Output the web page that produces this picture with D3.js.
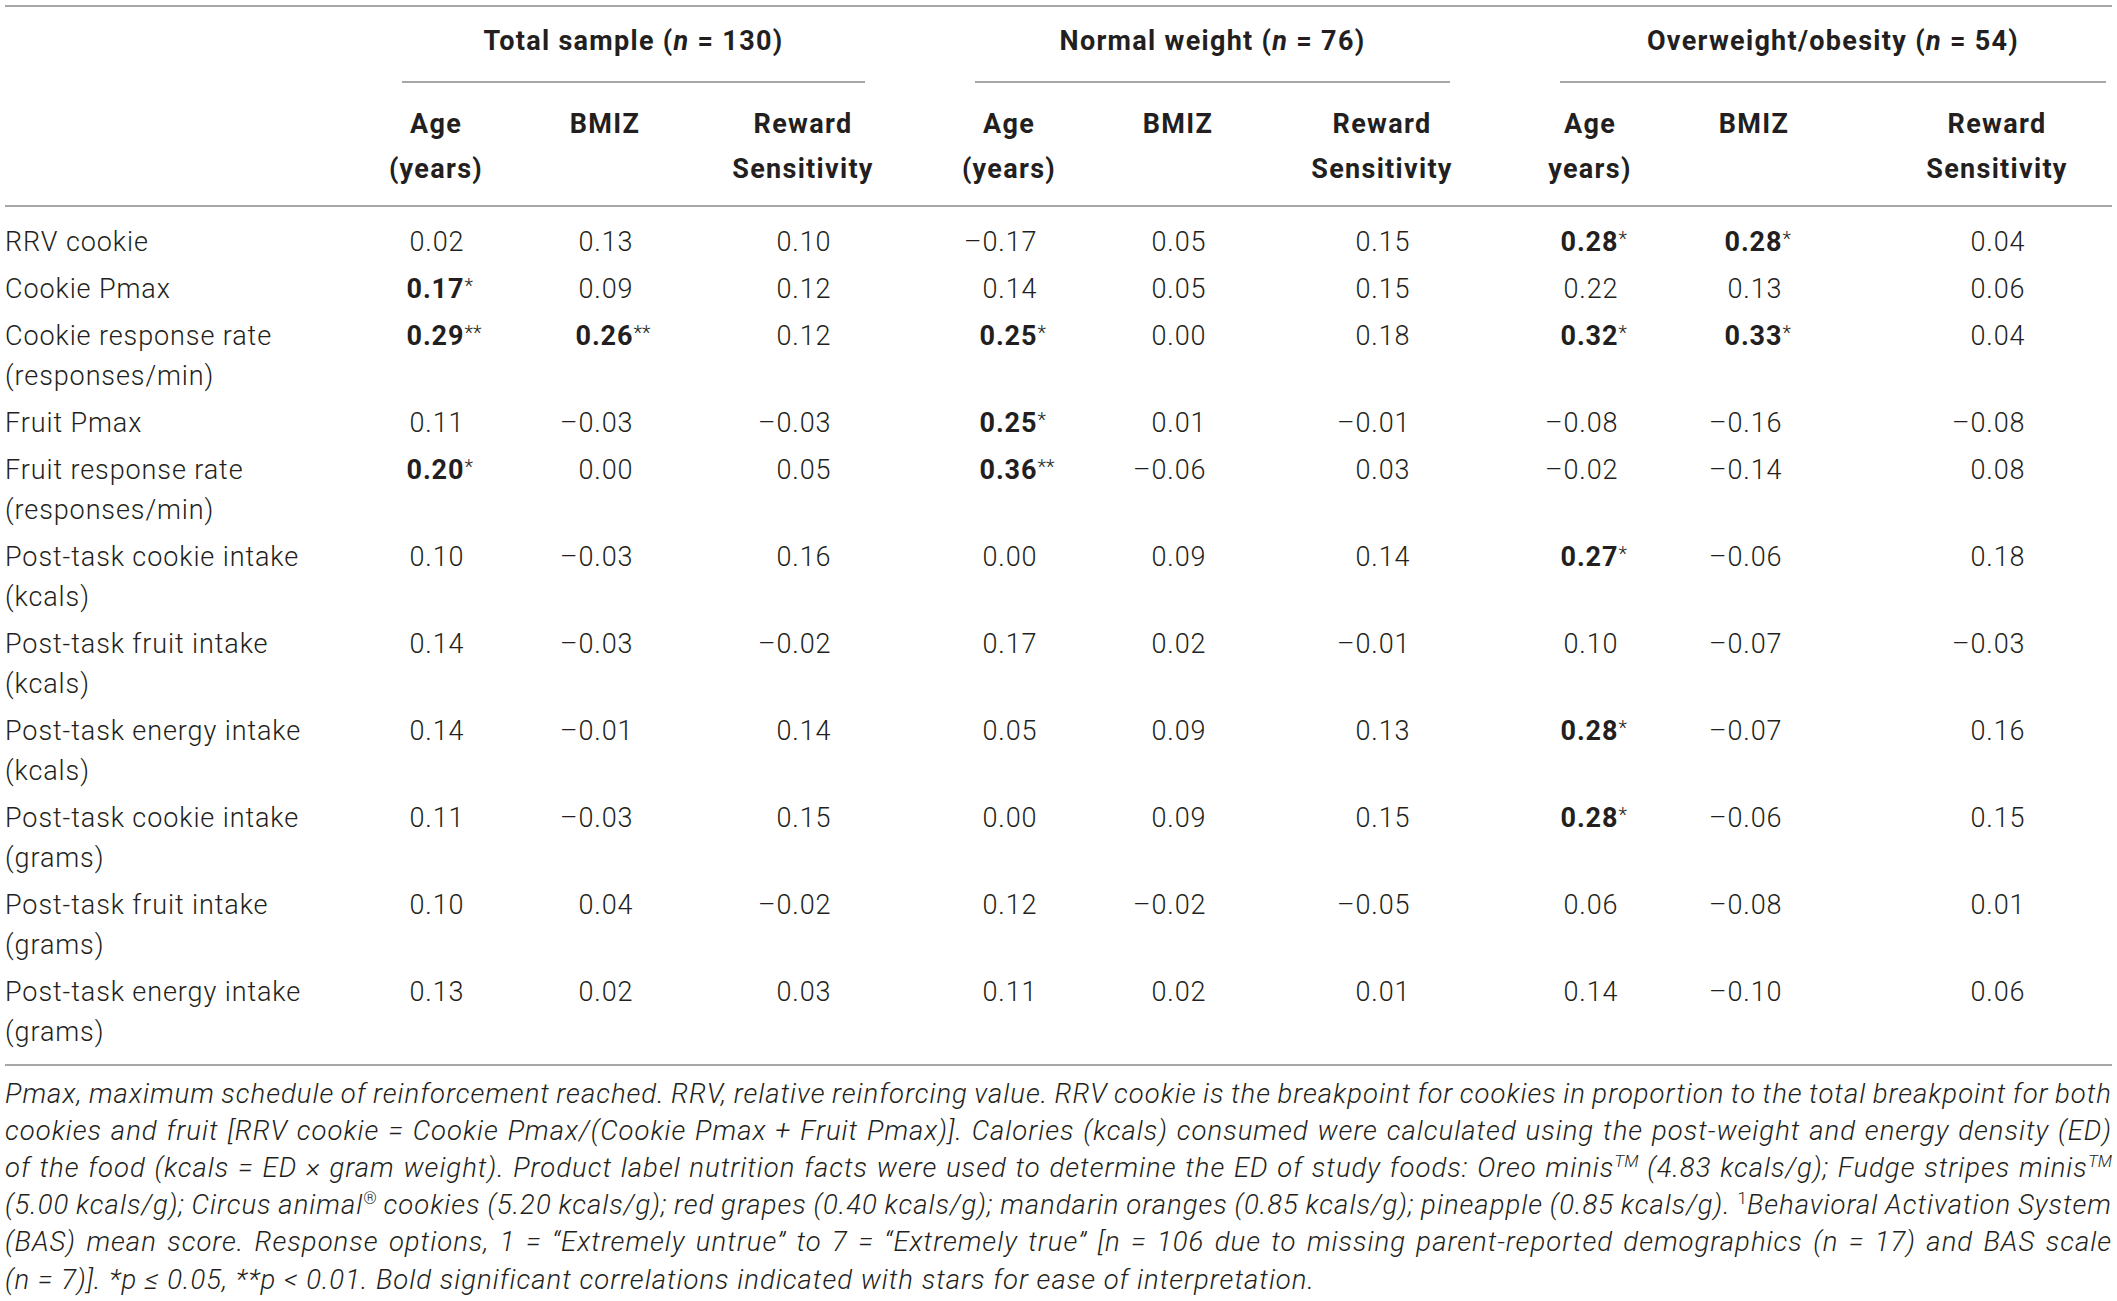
<!DOCTYPE html>
<html>
<head>
<meta charset="utf-8">
<script src="https://cdn.jsdelivr.net/npm/d3@7"></script>
<style>
html, body { margin: 0; padding: 0; background: #fff; }
svg { display: block; }
text { font-family: Roboto, "Liberation Sans", sans-serif; fill: #231f20; }
</style>
</head>
<body>
<div id="table"></div>
<script>
// group headings
var groupNames = ["Total sample", "Normal weight", "Overweight/obesity"];
var groupSizes = [130, 76, 54];

// column headings (the typo "years)" is in the original)
var columnHeads = [
    ["Age", "(years)"], ["BMIZ"], ["Reward", "Sensitivity"],
    ["Age", "(years)"], ["BMIZ"], ["Reward", "Sensitivity"],
    ["Age", "years)"], ["BMIZ"], ["Reward", "Sensitivity"]
];

var rowLabels = [
    ["RRV cookie"],
    ["Cookie Pmax"],
    ["Cookie response rate", "(responses/min)"],
    ["Fruit Pmax"],
    ["Fruit response rate", "(responses/min)"],
    ["Post-task cookie intake", "(kcals)"],
    ["Post-task fruit intake", "(kcals)"],
    ["Post-task energy intake", "(kcals)"],
    ["Post-task cookie intake", "(grams)"],
    ["Post-task fruit intake", "(grams)"],
    ["Post-task energy intake", "(grams)"]
];

// correlations, one array per column
var totalAge     = [0.02, 0.17, 0.29, 0.11, 0.20, 0.10, 0.14, 0.14, 0.11, 0.10, 0.13];
var totalBmiz    = [0.13, 0.09, 0.26, -0.03, 0.00, -0.03, -0.03, -0.01, -0.03, 0.04, 0.02];
var totalReward  = [0.10, 0.12, 0.12, -0.03, 0.05, 0.16, -0.02, 0.14, 0.15, -0.02, 0.03];
var normalAge    = [-0.17, 0.14, 0.25, 0.25, 0.36, 0.00, 0.17, 0.05, 0.00, 0.12, 0.11];
var normalBmiz   = [0.05, 0.05, 0.00, 0.01, -0.06, 0.09, 0.02, 0.09, 0.09, -0.02, 0.02];
var normalReward = [0.15, 0.15, 0.18, -0.01, 0.03, 0.14, -0.01, 0.13, 0.15, -0.05, 0.01];
var overAge      = [0.28, 0.22, 0.32, -0.08, -0.02, 0.27, 0.10, 0.28, 0.28, 0.06, 0.14];
var overBmiz     = [0.28, 0.13, 0.33, -0.16, -0.14, -0.06, -0.07, -0.07, -0.06, -0.08, -0.10];
var overReward   = [0.04, 0.06, 0.04, -0.08, 0.08, 0.18, -0.03, 0.16, 0.15, 0.01, 0.06];

// significant cells: [row, column, number of stars]
var significant = [
    [0, 6, 1], [0, 7, 1],
    [1, 0, 1],
    [2, 0, 2], [2, 1, 2], [2, 3, 1], [2, 6, 1], [2, 7, 1],
    [3, 3, 1],
    [4, 0, 1], [4, 3, 2],
    [5, 6, 1],
    [7, 6, 1],
    [8, 6, 1]
];

// footnote, line by line; "sup" = superscript, "supn" = upright superscript
var footLines = [
    [["Pmax, maximum schedule of reinforcement reached. RRV, relative reinforcing value. RRV cookie is the breakpoint for cookies in proportion to the total breakpoint for both"]],
    [["cookies and fruit [RRV cookie = Cookie Pmax/(Cookie Pmax + Fruit Pmax)]. Calories (kcals) consumed were calculated using the post-weight and energy density (ED)"]],
    [["of the food (kcals = ED \u00d7 gram weight). Product label nutrition facts were used to determine the ED of study foods: Oreo minis"], ["TM", "sup"], [" (4.83 kcals/g); Fudge stripes minis"], ["TM", "sup"]],
    [["(5.00 kcals/g); Circus animal"], ["\u00ae", "supn"], [" cookies (5.20 kcals/g); red grapes (0.40 kcals/g); mandarin oranges (0.85 kcals/g); pineapple (0.85 kcals/g). "], ["1", "supn"], ["Behavioral Activation System"]],
    [["(BAS) mean score. Response options, 1 = \u201cExtremely untrue\u201d to 7 = \u201cExtremely true\u201d [n = 106 due to missing parent-reported demographics (n = 17) and BAS scale"]],
    [["(n = 7)]. *p \u2264 0.05, **p < 0.01. Bold significant correlations indicated with stars for ease of interpretation."]]
];

var columns = [totalAge, totalBmiz, totalReward, normalAge, normalBmiz, normalReward, overAge, overBmiz, overReward];

// ---- layout ----
var W = 2117, H = 1301;
var left = 5, right = 2112;
var fs = 27, fsFoot = 27.5;
var lsBody = 0.9, lsHead = 1.3, lsFoot = 1.0;
var rule = {top: 6, group: 82, head: 206, bottom: 1065};
var groupY = 50, headY = [133, 178];
var firstRowY = 250.5, rowStep = 47, lineStep = 40;
var footY = 1103, footStep = 37.1;

var x = d3.scaleOrdinal().domain(d3.range(columns.length))
    .range([436, 605, 803, 1009, 1178, 1382, 1590, 1754, 1997]);
var groupX = d3.scaleOrdinal().domain(d3.range(groupNames.length))
    .range([[402, 865], [975, 1450], [1560, 2106]]);

// row offsets from the number of label lines
var rowHeights = rowLabels.map(function(d) { return rowStep + lineStep * (d.length - 1); });
var rowOffsets = [0].concat(Array.from(d3.cumsum(rowHeights)).slice(0, -1));
var y = d3.scaleLinear().domain([0, 1]).range([firstRowY, firstRowY + 1]);

var locale = d3.formatLocale({decimal: ".", thousands: ",", grouping: [3], currency: ["", ""], minus: "\u2013"});
var fmt = locale.format(".2f");

var svg = d3.select("#table").append("svg")
    .attr("width", W)
    .attr("height", H);

// rules
var ruleStyle = function(sel) { sel.attr("stroke", "#8a8a8a").attr("stroke-width", 1.6); };
[rule.top, rule.head, rule.bottom].forEach(function(ry) {
    svg.append("line").attr("x1", left).attr("x2", right)
        .attr("y1", ry).attr("y2", ry).call(ruleStyle);
});
groupNames.forEach(function(g, i) {
    svg.append("line").attr("x1", groupX(i)[0]).attr("x2", groupX(i)[1])
        .attr("y1", rule.group).attr("y2", rule.group).call(ruleStyle);
});

// group headings
var gh = svg.selectAll(".group").data(groupNames).enter()
    .append("text").attr("class", "group")
    .attr("x", function(d, i) { return (groupX(i)[0] + groupX(i)[1]) / 2; })
    .attr("y", groupY)
    .attr("text-anchor", "middle")
    .attr("font-size", fs)
    .attr("font-weight", 700)
    .attr("letter-spacing", lsHead);
gh.append("tspan").text(function(d) { return d + " ("; });
gh.append("tspan").attr("font-style", "italic").text("n");
gh.append("tspan").text(function(d, i) { return " = " + groupSizes[i] + ")"; });

// column headings
columnHeads.forEach(function(lines, c) {
    lines.forEach(function(t, k) {
        svg.append("text")
            .attr("x", x(c)).attr("y", headY[k])
            .attr("text-anchor", "middle")
            .attr("font-size", fs)
            .attr("font-weight", 700)
            .attr("letter-spacing", lsHead)
            .text(t);
    });
});

// row labels
rowLabels.forEach(function(lines, r) {
    lines.forEach(function(t, k) {
        svg.append("text")
            .attr("x", left)
            .attr("y", y(rowOffsets[r] + k * lineStep))
            .attr("font-size", fs)
            .attr("font-weight", 300)
            .attr("letter-spacing", lsBody)
            .text(t);
    });
});

// measure a plain number so values can be right-aligned under the heading centre
var probe = svg.append("text").attr("font-size", fs).attr("font-weight", 300)
    .attr("letter-spacing", lsBody).text("0.00");
var numHalf = probe.node().getComputedTextLength() / 2;
probe.remove();

var starMap = {};
significant.forEach(function(s) { starMap[s[0] + "_" + s[1]] = s[2]; });

var cells = [];
columns.forEach(function(col, c) {
    col.forEach(function(v, r) {
        cells.push({r: r, c: c, v: v, stars: starMap[r + "_" + c] || 0});
    });
});

var cell = svg.selectAll(".cell").data(cells).enter()
    .append("g").attr("class", "cell");

cell.append("text")
    .attr("x", function(d) { return x(d.c) + numHalf + lsBody; })
    .attr("y", function(d) { return y(rowOffsets[d.r]); })
    .attr("text-anchor", "end")
    .attr("font-size", fs)
    .attr("font-weight", function(d) { return d.stars ? 700 : 300; })
    .attr("letter-spacing", lsBody)
    .text(function(d) { return fmt(d.v); });

cell.filter(function(d) { return d.stars; }).append("text")
    .attr("x", function(d) { return x(d.c) + numHalf + 1; })
    .attr("y", function(d) { return y(rowOffsets[d.r]) - 5; })
    .attr("font-size", 20)
    .attr("font-weight", 300)
    .text(function(d) { return d3.range(d.stars).map(function() { return "*"; }).join(""); });

// footnote, justified except the last line
footLines.forEach(function(segs, i) {
    var t = svg.append("text")
        .attr("x", left)
        .attr("y", footY + i * footStep)
        .attr("font-size", fsFoot)
        .attr("font-style", "italic")
        .attr("font-weight", 300)
        .attr("letter-spacing", lsFoot);
    var raised = false;
    segs.forEach(function(s) {
        var sp = t.append("tspan").text(s[0]);
        if (s[1]) {
            sp.attr("font-size", 17).attr("dy", -10).attr("letter-spacing", 0);
            if (s[1] === "supn") sp.attr("font-style", "normal");
            raised = true;
        } else if (raised) {
            sp.attr("dy", 10);
            raised = false;
        }
    });
    if (i < footLines.length - 1) {
        var full = segs.map(function(s) { return s[0]; }).join("");
        var gaps = full.split(" ").length - 1;
        var natural = t.node().getComputedTextLength();
        t.style("word-spacing", ((right - left - natural) / gaps) + "px");
    }
});
</script>
</body>
</html>
